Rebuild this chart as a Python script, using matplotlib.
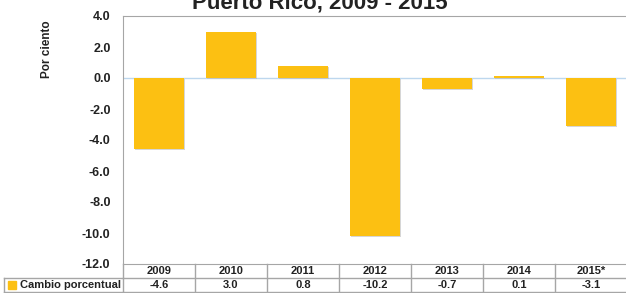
import matplotlib
matplotlib.use('Agg')
import matplotlib.pyplot as plt
import matplotlib.patheffects as pe
from matplotlib.patches import Rectangle

plt.rcParams['font.family'] = ['Liberation Sans', 'DejaVu Sans']

years = ['2009', '2010', '2011', '2012', '2013', '2014', '2015*']
cambio = [-4.6, 3.0, 0.8, -10.2, -0.7, 0.1, -3.1]
yticks = [4.0, 2.0, 0.0, -2.0, -4.0, -6.0, -8.0, -10.0, -12.0]

BAR = '#FCC012'
EDGE = '#A6A6A6'
TXT = '#222222'

W, H = 626, 293
fig = plt.figure(figsize=(W / 100, H / 100), dpi=100)
ax = fig.add_axes([123 / W, (H - 264) / H, 504 / W, 248 / H])

x = list(range(len(years)))
ax.bar(x, cambio, width=0.7, color=BAR, zorder=3,
       path_effects=[pe.SimplePatchShadow(offset=(0.8, -0.8), shadow_rgbFace='#BBBBBB', alpha=0.6),
                     pe.Normal()])
ax.axhline(0, color='#BDD7EE', lw=1, zorder=2)

ax.set_xlim(-0.5, len(years) - 0.5)
ax.set_ylim(-12, 4)
ax.set_yticks(yticks)
ax.set_yticklabels(['%.1f' % v for v in yticks], fontsize=9, fontweight='bold', color=TXT)
ax.tick_params(axis='y', length=0, pad=9)
ax.set_xticks([])
for s in ['left', 'top', 'bottom']:
    ax.spines[s].set_color(EDGE)
ax.spines['right'].set_visible(False)

fig.text(47 / W, 1 - 49 / H, 'Por ciento', rotation=90, ha='center', va='center',
         fontsize=8.5, fontweight='bold', color=TXT)

# tabla de datos bajo el eje
tr = ax.get_xaxis_transform()
r1, r2 = -14 / 248, -28 / 248
for yy in [r1, r2]:
    ax.plot([-0.5, len(years) - 0.5], [yy, yy], color=EDGE, lw=1, transform=tr, clip_on=False)
for b in range(len(years) + 1):
    ax.plot([b - 0.5, b - 0.5], [0, r2], color=EDGE, lw=1, transform=tr, clip_on=False)
px = 1 / 72.0
lx = -0.5 - 119 * px
ax.plot([lx, -0.5], [r1, r1], color=EDGE, lw=1, transform=tr, clip_on=False)
ax.plot([lx, -0.5], [r2, r2], color=EDGE, lw=1, transform=tr, clip_on=False)
ax.plot([lx, lx], [r1, r2], color=EDGE, lw=1, transform=tr, clip_on=False)
for i, (yr, v) in enumerate(zip(years, cambio)):
    ax.text(i, (0 + r1) / 2, yr, transform=tr, ha='center', va='center',
            fontsize=8, fontweight='bold', color=TXT)
    ax.text(i, (r1 + r2) / 2, '%.1f' % v, transform=tr, ha='center', va='center',
            fontsize=8, fontweight='bold', color=TXT)
ax.add_patch(Rectangle((lx + 4 * px, (r1 + r2) / 2 - 4 / 248), 8 * px, 8 / 248, transform=tr,
                       color=BAR, clip_on=False))
ax.text(lx + 16 * px, (r1 + r2) / 2, 'Cambio porcentual', transform=tr, ha='left', va='center',
        fontsize=8, fontweight='bold', color=TXT)

fig.text(320 / W, 1 - 9 / H, 'Puerto Rico, 2009 - 2015', ha='center', va='baseline',
         fontsize=16, fontweight='bold', color=TXT)

fig.savefig('out.png', dpi=100)
